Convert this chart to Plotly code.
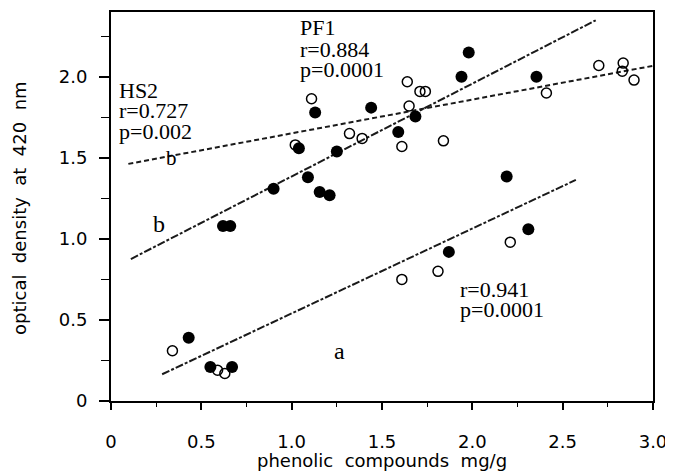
import plotly.graph_objects as go

# filled circles
filled_x = [0.43, 0.55, 0.67, 0.62, 0.66, 0.90, 1.04, 1.09, 1.13, 1.155, 1.21, 1.25,
            1.44, 1.59, 1.685, 1.87, 1.94, 1.98, 2.19, 2.31, 2.355]
filled_y = [0.39, 0.21, 0.21, 1.08, 1.08, 1.31, 1.56, 1.38, 1.78, 1.29, 1.27, 1.54,
            1.81, 1.66, 1.755, 0.92, 2.00, 2.15, 1.385, 1.06, 2.00]
# open circles
open_x = [0.34, 0.59, 0.63, 1.02, 1.11, 1.32, 1.39, 1.61, 1.61, 1.64, 1.65, 1.71,
          1.74, 1.81, 1.84, 2.21, 2.41, 2.70, 2.835, 2.83, 2.895]
open_y = [0.31, 0.19, 0.17, 1.58, 1.865, 1.65, 1.62, 1.57, 0.75, 1.97, 1.82, 1.91,
          1.91, 0.80, 1.605, 0.98, 1.90, 2.07, 2.085, 2.035, 1.98]

# regression lines (endpoints)
line_a_x = [0.283, 2.573]
line_a_y = [0.165, 1.364]
line_b_x = [0.11, 2.683]
line_b_y = [0.876, 2.349]
line_hs2_x = [0.096, 3.0]
line_hs2_y = [1.463, 2.068]

x_ticks = [0, 0.5, 1.0, 1.5, 2.0, 2.5, 3.0]
x_ticktext = ["0", "0.5", "1.0", "1.5", "2.0", "2.5", "3.0"]
y_ticks = [0, 0.5, 1.0, 1.5, 2.0]
y_ticktext = ["0", "0.5", "1.0", "1.5", "2.0"]

fig = go.Figure()
dark = "#1a1a1a"
fig.add_trace(go.Scatter(x=line_a_x, y=line_a_y, mode="lines",
                         line=dict(color=dark, width=2, dash="8px,2px,3px,2px")))
fig.add_trace(go.Scatter(x=line_b_x, y=line_b_y, mode="lines",
                         line=dict(color=dark, width=2, dash="8px,2px,3px,2px")))
fig.add_trace(go.Scatter(x=line_hs2_x, y=line_hs2_y, mode="lines",
                         line=dict(color=dark, width=2, dash="5px,3px")))
fig.add_trace(go.Scatter(x=open_x, y=open_y, mode="markers",
                         marker=dict(symbol="circle-open", size=10, color="black",
                                     line=dict(width=1.5, color="black"))))
fig.add_trace(go.Scatter(x=filled_x, y=filled_y, mode="markers",
                         marker=dict(symbol="circle", size=12, color="black")))

serif = "Liberation Serif"
sans = "DejaVu Sans"
W, H = 673, 475
OFF = 8  # page body margin offset
# desired plot area on screen: x 111..653, y 12..401
L, T = 111 - OFF, 12 - OFF
R = (W + OFF) - 653
B = (H + OFF) - 401


def fig_ann(text, sx, sy, size=22, family=serif, xanchor="left", angle=0):
    # sx, sy: screen pixel positions -> paper coordinates of the plot area
    w = W - L - R
    h = H - T - B
    px, py = sx - OFF, sy - OFF
    fig.add_annotation(text=text, x=(px - L) / w, y=(H - B - py) / h,
                       xref="paper", yref="paper", showarrow=False,
                       xanchor=xanchor, yanchor="middle", textangle=angle,
                       font=dict(family=family, size=size, color="black"))


fig_ann("PF1", 298, 28)
fig_ann("r=0.884", 298, 49)
fig_ann("p=0.0001", 298, 69)
fig_ann("HS2", 117, 90)
fig_ann("r=0.727", 117, 111)
fig_ann("p=0.002", 117, 131)
fig_ann("r=0.941", 458, 289)
fig_ann("p=0.0001", 458, 309)
fig_ann("a", 339, 351, size=24, xanchor="center")
fig_ann("b", 159, 224, size=24, xanchor="center")
fig_ann("b", 171, 158, size=21, xanchor="center")
fig_ann("phenolic\u00a0 compounds\u00a0 mg/g", 382, 460, size=18, family=sans, xanchor="center")
fig_ann("optical\u00a0 density\u00a0 at\u00a0 420\u00a0 nm", 19, 208, size=18, family=sans,
        xanchor="center", angle=-90)

fig.update_layout(
    width=W, height=H,
    margin=dict(l=L, r=R, t=T, b=B, autoexpand=False),
    paper_bgcolor="white", plot_bgcolor="white",
    showlegend=False,
    font=dict(family=sans, size=18, color="black"),
    xaxis=dict(range=[0, 3.0], tickvals=x_ticks, ticktext=x_ticktext, automargin=False,
               ticks="outside", ticklen=7, tickwidth=1.5, tickcolor="black",
               showline=True, linecolor="black", linewidth=2, mirror=True,
               showgrid=False, zeroline=False, ticklabelstandoff=16,
               minor=dict(tickvals=[0.25, 0.75, 1.25, 1.75, 2.25, 2.75], ticks="outside",
                          ticklen=4, tickwidth=1.2, tickcolor="black"),
               tickfont=dict(family=sans, size=18)),
    yaxis=dict(range=[0, 2.40], tickvals=y_ticks, ticktext=y_ticktext, automargin=False,
               ticks="outside", ticklen=10, tickwidth=1.5, tickcolor="black",
               showline=True, linecolor="black", linewidth=2, mirror=True,
               showgrid=False, zeroline=False, ticklabelstandoff=8,
               minor=dict(tickvals=[0.25, 0.75, 1.25, 1.75, 2.25], ticks="outside",
                          ticklen=8, tickwidth=1.2, tickcolor="black"),
               tickfont=dict(family=sans, size=18)),
)

fig.write_html("out.html")
